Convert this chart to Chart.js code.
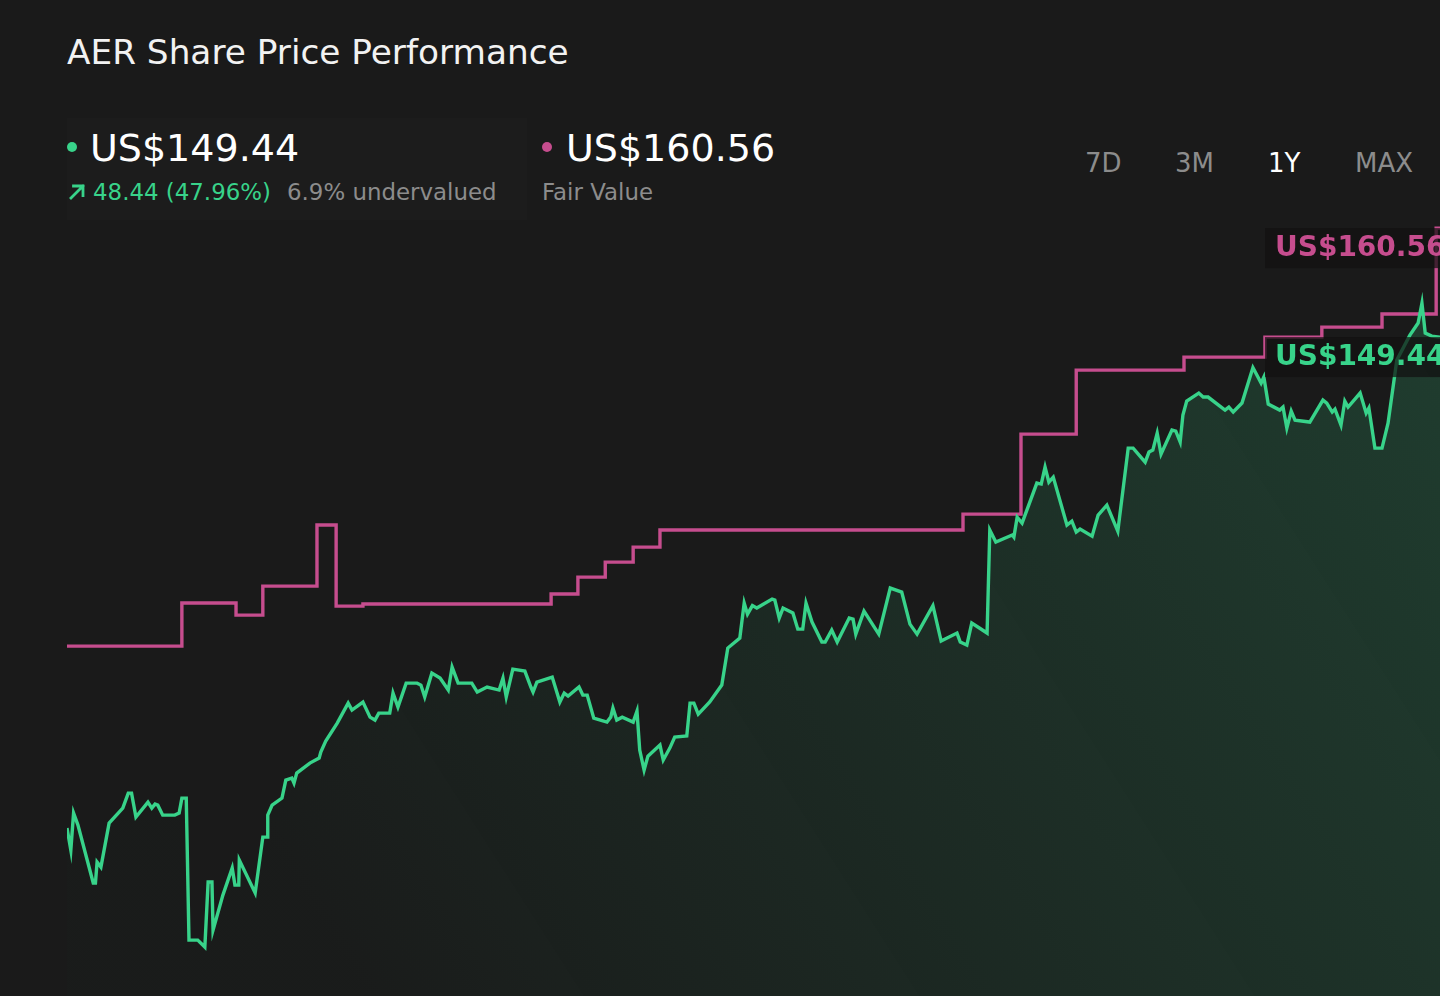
<!DOCTYPE html>
<html lang="en">
<head>
<meta charset="utf-8">
<title>AER Share Price Performance</title>
<script src="https://cdn.jsdelivr.net/npm/chart.js@4.4.0/dist/chart.umd.min.js"></script>
<style>
  html, body {
    margin: 0;
    padding: 0;
    width: 1440px;
    height: 996px;
    overflow: hidden;
    background: #1a1a1a;
    font-family: "DejaVu Sans", sans-serif;
  }
  .abs { position: absolute; line-height: 1; white-space: nowrap; }
  .title { left: 67px; top: 35px; font-size: 34.3px; color: #f2f2f2; }
  .legend-panel { position: absolute; left: 67px; top: 118px; width: 460px; height: 102px; background: rgba(255,255,255,0.012); }
  .dot { position: absolute; width: 10px; height: 10px; border-radius: 50%; }
  .price { font-size: 38px; color: #ffffff; top: 129px; }
  .sub { font-size: 22.9px; top: 181px; }
  .green { color: #38d38a; }
  .grey { color: #8c8c8c; }
  .range { font-size: 26px; top: 150px; color: #8c8c8c; }
  .range.active { color: #ffffff; }
  .arrow { position: absolute; left: 68px; top: 183px; }
  #chart-wrap { position: absolute; left: 67px; top: 214px; width: 1373px; height: 784px; }
</style>
</head>
<body>
<div class="abs title">AER Share Price Performance</div>
<div class="legend-panel"></div>

<div class="dot" style="left:67px; top:142px; background:#38d38a;"></div>
<div class="abs price" style="left:90px;">US$149.44</div>
<svg class="arrow" width="18" height="18" viewBox="0 0 18 18">
  <path d="M3 15 L15 3 M5.5 3 H15 V12.5" fill="none" stroke="#38d38a" stroke-width="2.8" stroke-linecap="square"/>
</svg>
<div class="abs sub green" style="left:93px;">48.44 (47.96%)</div>
<div class="abs sub grey" style="left:287px;">6.9% undervalued</div>

<div class="dot" style="left:542px; top:142px; background:#c64d8e;"></div>
<div class="abs price" style="left:566px;">US$160.56</div>
<div class="abs sub grey" style="left:542px;">Fair Value</div>

<div class="abs range" style="left:1085px;">7D</div>
<div class="abs range" style="left:1175px;">3M</div>
<div class="abs range active" style="left:1268px;">1Y</div>
<div class="abs range" style="left:1355px;">MAX</div>

<div id="chart-wrap"><canvas id="priceChart"></canvas></div>

<script>
// Data (x = trading day within the 1Y window)
const priceDays = [
  0, 0.7, 1.2, 2.0, 4.8, 5.2, 5.5, 6.2, 7.7, 10.2,
  11.2, 11.8, 12.6, 14.8, 15.5, 16.1, 16.6, 17.5, 19.7, 20.5,
  21.0, 21.8, 22.3, 23.9, 25.2, 25.8, 26.5, 26.7, 28.5, 30.2,
  30.7, 31.4, 31.5, 34.4, 35.8, 36.6, 36.7, 37.5, 39.3, 40.0,
  41.1, 41.5, 42.0, 44.4, 46.1, 46.4, 47.3, 49.4, 51.4, 52.1,
  54.1, 55.4, 56.3, 57.0, 59.0, 59.6, 60.5, 62.0, 64.0, 64.7,
  65.4, 66.7, 68.2, 69.7, 70.4, 71.5, 74.0, 75.0, 76.8, 79.0,
  79.7, 80.3, 81.5, 83.7, 84.8, 85.2, 85.9, 88.7, 90.1, 90.9,
  91.6, 93.6, 94.3, 95.1, 96.3, 98.7, 99.4, 99.8, 100.5, 101.5,
  103.5, 104.2, 104.7, 105.5, 106.2, 108.4, 109.0, 110.2, 111.1, 113.3,
  113.9, 114.6, 115.4, 117.5, 119.7, 120.8, 123.0, 123.8, 124.4, 125.3,
  126.1, 128.9, 129.4, 130.2, 130.9, 132.7, 133.6, 134.5, 135.1, 136.2,
  138.0, 138.6, 139.8, 140.8, 143.0, 143.7, 144.2, 145.7, 148.4, 150.5,
  152.6, 154.1, 155.4, 158.3, 159.8, 162.7, 163.3, 164.5, 165.4, 168.2,
  168.7, 169.8, 172.8, 173.1, 173.7, 174.6, 177.3, 178.1, 178.8, 179.5,
  180.3, 182.8, 183.7, 184.5, 185.2, 187.4, 188.5, 190.1, 192.1, 194.0,
  194.9, 197.1, 197.8, 198.5, 199.3, 200.0, 202.0, 202.7, 203.5, 204.0,
  204.7, 206.9, 207.7, 208.6, 211.7, 212.4, 213.2, 214.8, 216.8, 218.3,
  218.8, 219.6, 221.7, 222.3, 223.0, 223.8, 224.5, 227.2, 229.6, 230.3,
  231.3, 231.8, 232.9, 233.6, 234.2, 236.4, 237.5, 238.0, 239.1, 240.4,
  241.5, 242.6, 243.1, 245.5, 247.0, 247.7, 248.3, 249.5, 251.0,
];

const sharePrice = [
  99.34, 97.09, 100.87, 99.64, 93.73, 93.73, 95.87, 95.36, 99.85, 101.38,
  102.91, 102.91, 100.46, 101.99, 101.38, 101.79, 101.68, 100.66, 100.66, 100.87,
  102.40, 102.40, 87.91, 87.91, 87.20, 93.83, 93.83, 88.93, 92.50, 95.26,
  93.52, 93.52, 96.07, 92.71, 98.42, 98.42, 100.66, 101.68, 102.40, 104.24,
  104.44, 103.93, 104.95, 105.97, 106.48, 107.09, 108.22, 110.05, 112.09, 111.38,
  112.20, 110.66, 110.36, 111.07, 111.07, 113.11, 111.68, 114.13, 114.13, 113.93,
  112.71, 115.15, 114.64, 113.42, 115.77, 114.13, 114.13, 113.22, 113.73, 113.42,
  114.64, 112.71, 115.56, 115.36, 113.73, 113.22, 114.24, 114.75, 112.20, 113.11,
  112.81, 113.73, 112.91, 112.91, 110.56, 110.15, 110.66, 111.58, 110.36, 110.66,
  110.15, 111.28, 107.30, 105.26, 106.68, 107.81, 106.28, 107.50, 108.62, 108.73,
  112.09, 112.09, 110.97, 112.20, 113.93, 117.71, 118.73, 122.30, 121.17, 122.04,
  121.79, 122.71, 122.60, 120.77, 121.79, 121.28, 119.64, 119.64, 122.30, 120.36,
  118.32, 118.32, 119.54, 118.32, 120.77, 120.66, 119.13, 121.48, 119.13, 123.83,
  123.42, 120.15, 119.13, 122.04, 118.42, 119.24, 118.32, 118.01, 120.26, 119.24,
  129.75, 128.52, 129.24, 129.03, 131.07, 130.46, 134.54, 134.44, 136.17, 134.64,
  135.15, 130.26, 130.66, 129.54, 129.85, 129.13, 131.28, 132.30, 129.64, 138.11,
  138.11, 136.68, 137.71, 137.91, 139.64, 137.50, 139.95, 139.85, 138.73, 141.48,
  142.91, 143.73, 143.32, 143.32, 141.99, 142.30, 141.79, 142.71, 146.33, 144.75,
  145.36, 142.60, 141.99, 142.30, 140.15, 141.89, 140.97, 140.77, 143.01, 142.71,
  141.79, 142.09, 140.46, 142.91, 142.30, 143.73, 141.68, 142.20, 138.11, 138.11,
  140.66, 145.05, 147.09, 149.64, 150.87, 152.91, 149.85, 149.54, 149.44,
];

// Fair value changes (step points)
const fairValueDays = [0, 21.0, 30.9, 35.8, 45.7, 49.2, 54.1, 88.5, 93.4, 98.4, 103.5, 108.4, 163.8, 174.4, 184.5, 204.2, 219.0, 229.4, 240.4, 250.3, 251];
const fairValue = [117.91, 122.30, 121.07, 124.03, 130.26, 121.99, 122.20, 123.22, 124.95, 126.48, 128.01, 129.75, 131.38, 139.54, 146.07, 147.40, 149.44, 150.46, 151.79, 160.56, 160.56];

const GREEN = "#38d38a";
const PINK = "#c64d8e";

// Tag with the last value at the right edge of the plot
const lastValueTags = {
  id: "lastValueTags",
  afterDatasetsDraw(chart) {
    const { ctx, chartArea, scales } = chart;
    ctx.save();
    chart.data.datasets.forEach((ds) => {
      const last = ds.data[ds.data.length - 1];
      const y = scales.y.getPixelForValue(last.y);
      const boxX = chartArea.right - 175;
      ctx.fillStyle = "rgba(18, 16, 17, 0.72)";
      ctx.fillRect(boxX, y, 200, 40);
      ctx.fillStyle = ds.borderColor;
      ctx.font = "bold 28px 'DejaVu Sans'";
      ctx.textBaseline = "middle";
      ctx.fillText("US$" + last.y.toFixed(2), boxX + 10, y + 21);
    });
    ctx.restore();
  },
};

const initChart = () => {
  const ctx = document.getElementById("priceChart").getContext("2d");

  new Chart(ctx, {
    type: "line",
    data: {
      datasets: [
        {
          label: "Share Price",
          data: priceDays.map((d, i) => ({ x: d, y: sharePrice[i] })),
          borderColor: GREEN,
          borderWidth: 3.4,
          pointRadius: 0,
          tension: 0,
          fill: "start",
          backgroundColor: (context) => {
            const { chartArea } = context.chart;
            if (!chartArea) return "transparent";
            const g = context.chart.ctx.createLinearGradient(
              chartArea.right, chartArea.top + 100, chartArea.left + 300, chartArea.bottom
            );
            g.addColorStop(0, "rgba(56, 211, 138, 0.19)");
            g.addColorStop(1, "rgba(56, 211, 138, 0.01)");
            return g;
          },
        },
        {
          label: "Fair Value",
          data: fairValueDays.map((d, i) => ({ x: d, y: fairValue[i] })),
          borderColor: PINK,
          borderWidth: 3.4,
          pointRadius: 0,
          stepped: "before",
          fill: false,
        },
      ],
    },
    options: {
      responsive: true,
      maintainAspectRatio: false,
      animation: false,
      events: [],
      layout: { padding: 0 },
      plugins: {
        legend: { display: false },
        tooltip: { enabled: false },
      },
      scales: {
        x: { type: "linear", min: 0, max: 251, display: false },
        y: { min: 82, max: 162, display: false },
      },
    },
    plugins: [lastValueTags],
  });
};

window.addEventListener("DOMContentLoaded", initChart);
</script>
</body>
</html>
